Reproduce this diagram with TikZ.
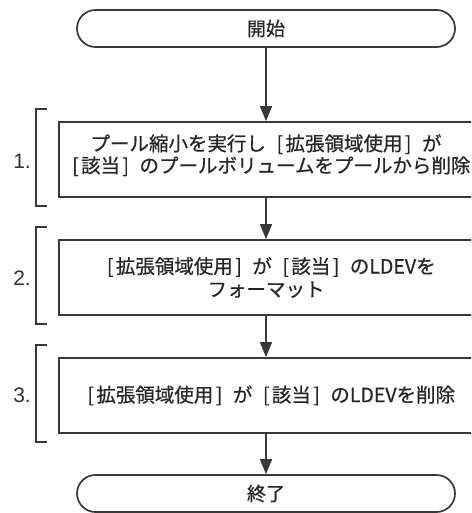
\documentclass[tikz,border=0pt]{standalone}
\usepackage{fontspec}
\setmainfont{Liberation Sans}
\newfontfamily\jp[FakeBold=0.6]{Noto Sans CJK JP}
\newcommand\lbk{\makebox[1em][r]{[\hspace{0.12em}}}
\newcommand\rbk{\makebox[1em][l]{\hspace{0.12em}]}}
\usetikzlibrary{arrows.meta,calc}
\tikzset{
  linecol/.style={draw=black!78, line width=1.7pt},
  termbox/.style={linecol, rectangle, rounded corners=18.5pt, minimum width=378pt, minimum height=37pt, inner sep=0pt, font=\jp\fontsize{19}{22}\selectfont, text=black!85},
  stepbox/.style={linecol, rectangle, minimum width=414pt, minimum height=75pt, inner sep=0pt, align=center, font=\jp\fontsize{19.5}{22}\selectfont, text=black!85},
  flow/.style={linecol, line width=1.5pt, -{Triangle[length=15pt,width=12pt]}},
  bracketline/.style={linecol},
  numlabel/.style={anchor=east, inner sep=0pt, font=\fontsize{21}{24}\selectfont, text=black!80}
}
\begin{document}
\begin{tikzpicture}[x=1pt,y=-1pt]
\useasboundingbox (0,0) rectangle (471,513);
\clip (0,0) rectangle (471,513);
\fill[white] (0,0) rectangle (471,513);
\node[termbox] (start) at (266,28.5) {開始};
\node[stepbox, text depth=12pt] (b1) at (266,159.5) {プール縮小を実行し\lbk 拡張領域使用\rbk が\\\lbk 該当\rbk のプールボリュームをプールから削除};
\node[stepbox] (b2) at (266,277.5) {\lbk 拡張領域使用\rbk が\lbk 該当\rbk のLDEVを\\[1pt]フォーマット};
\node[stepbox] (b3) at (266,395.5) {\lbk 拡張領域使用\rbk が\lbk 該当\rbk のLDEVを削除};
\node[termbox] (end) at (266,493.5) {終了};
\draw[flow] (start) -- (b1);
\draw[flow] (b1) -- (b2);
\draw[flow] (b2) -- (b3);
\draw[flow] (b3) -- (end);
\foreach \b in {b1,b2,b3}{
  \draw[bracketline] ([xshift=-11pt,yshift=12pt]\b.north west) -| ([xshift=-22pt,yshift=-8pt]\b.south west) -- ++(11,0);
}
\node[numlabel] (n1) at (31,161) {1.};
\node[numlabel] (n2) at (31,278) {2.};
\node[numlabel] (n3) at (31,395) {3.};
\end{tikzpicture}
\end{document}
